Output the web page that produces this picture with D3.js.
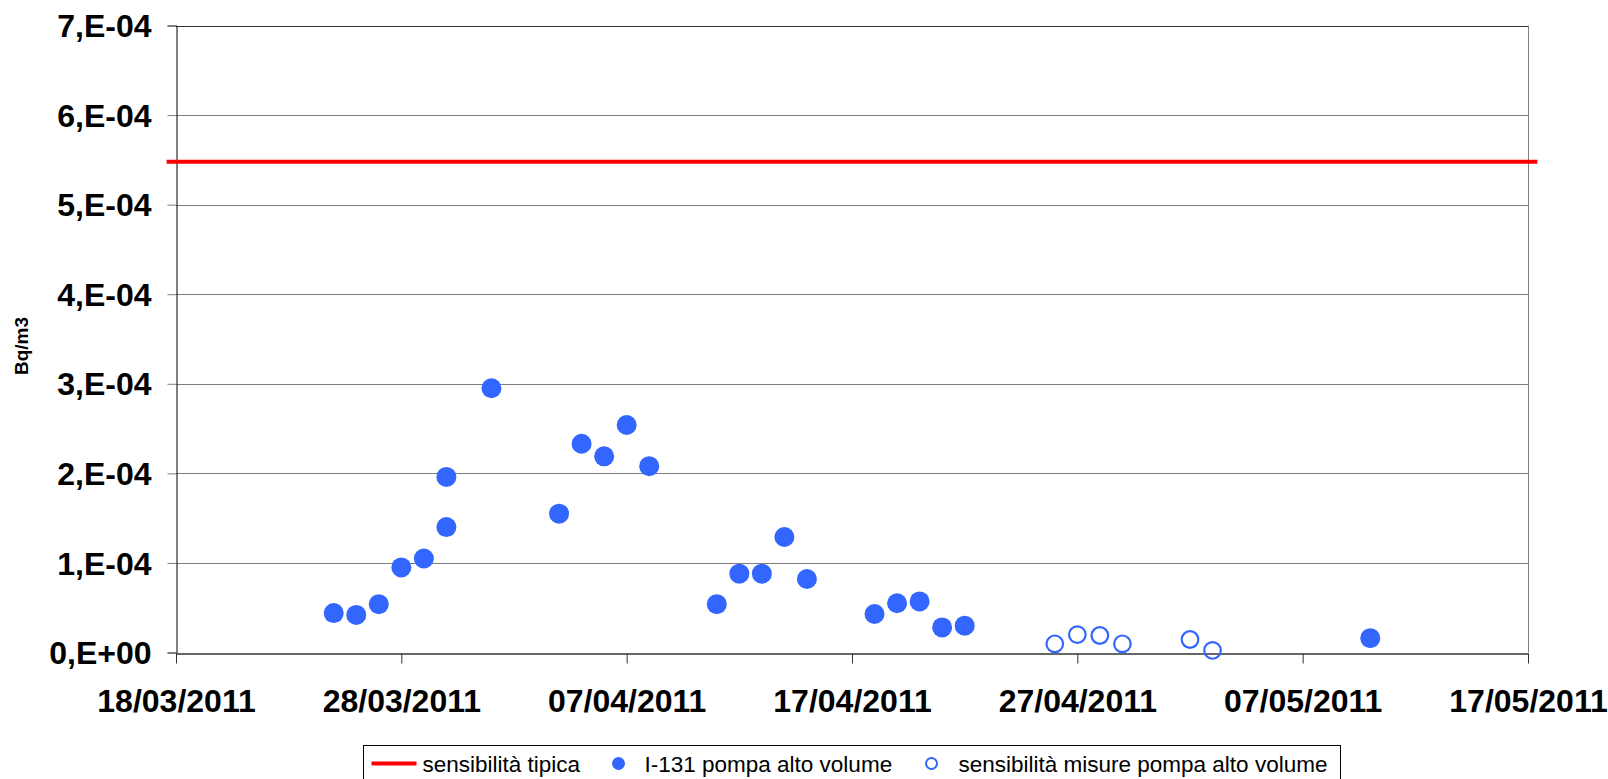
<!DOCTYPE html>
<html>
<head>
<meta charset="utf-8">
<script src="https://cdn.jsdelivr.net/npm/d3@7"></script>
<style>
  html, body { margin: 0; padding: 0; background: #fff; }
  svg { display: block; font-family: "Liberation Sans", Arial, sans-serif; }
</style>
</head>
<body>
<svg id="chart"></svg>
<script>
// I-131 pompa alto volume (filled markers)
const i131Dates = ['25/03/2011', '26/03/2011', '27/03/2011', '28/03/2011', '29/03/2011', '30/03/2011',
    '30/03/2011', '01/04/2011', '04/04/2011', '05/04/2011', '06/04/2011', '07/04/2011', '08/04/2011',
    '11/04/2011', '12/04/2011', '13/04/2011', '14/04/2011', '15/04/2011', '18/04/2011', '19/04/2011',
    '20/04/2011', '21/04/2011', '22/04/2011', '10/05/2011'];
const i131Values = [4.4e-5, 4.2e-5, 5.4e-5, 9.5e-5, 1.05e-4, 1.40e-4,
    1.96e-4, 2.95e-4, 1.55e-4, 2.33e-4, 2.19e-4, 2.54e-4, 2.08e-4,
    5.4e-5, 8.8e-5, 8.8e-5, 1.29e-4, 8.2e-5, 4.3e-5, 5.5e-5,
    5.7e-5, 2.8e-5, 3.0e-5, 1.6e-5];

// sensibilità misure pompa alto volume (open markers)
const sensDates = ['26/04/2011', '27/04/2011', '28/04/2011', '29/04/2011', '02/05/2011', '03/05/2011'];
const sensValues = [9.7e-6, 2.0e-5, 1.9e-5, 9.7e-6, 1.45e-5, 2.3e-6];

// sensibilità tipica (red line)
const typicalDates = ['17/03/2011 14', '17/05/2011 10'];
const typicalValues = [5.48e-4, 5.48e-4];

const xTickDates = ['18/03/2011', '28/03/2011', '07/04/2011', '17/04/2011', '27/04/2011', '07/05/2011', '17/05/2011'];
const yTickValues = [0, 1e-4, 2e-4, 3e-4, 4e-4, 5e-4, 6e-4, 7e-4];
const yTickLabels = ['0,E+00', '1,E-04', '2,E-04', '3,E-04', '4,E-04', '5,E-04', '6,E-04', '7,E-04'];

const legendLabels = ['sensibilità tipica', 'I-131 pompa alto volume', 'sensibilità misure pompa alto volume'];

const width = 1608, height = 779;
const margin = { top: 25.5, right: 80, bottom: 126.5, left: 176 };

const parseDay = d3.utcParse('%d/%m/%Y');
const parseHour = d3.utcParse('%d/%m/%Y %H');
const fmtDay = d3.utcFormat('%d/%m/%Y');

const blue = '#3366ff';

const svg = d3.select('#chart')
    .attr('width', width)
    .attr('height', height);

const x = d3.scaleUtc()
    .domain([parseDay(xTickDates[0]), parseDay(xTickDates[xTickDates.length - 1])])
    .range([margin.left, width - margin.right]);

const y = d3.scaleLinear()
    .domain([0, 7e-4])
    .range([height - margin.bottom, margin.top]);

// gridlines
svg.append('g')
    .selectAll('line')
    .data(yTickValues.slice(1))
    .join('line')
    .attr('x1', margin.left)
    .attr('x2', width - margin.right)
    .attr('y1', d => Math.round(y(d)) + 0.5)
    .attr('y2', d => Math.round(y(d)) + 0.5)
    .attr('stroke', (d, i) => i === yTickValues.length - 2 ? '#333' : '#7f7f7f')
    .attr('stroke-width', 1);

// right border of plot area
svg.append('line')
    .attr('x1', width - margin.right + 0.5)
    .attr('x2', width - margin.right + 0.5)
    .attr('y1', margin.top)
    .attr('y2', height - margin.bottom)
    .attr('stroke', '#7f7f7f');

// y axis
const yAxis = svg.append('g')
    .attr('transform', `translate(${margin.left + 0.5},0)`)
    .call(d3.axisLeft(y)
        .tickValues(yTickValues)
        .tickFormat((d, i) => yTickLabels[i])
        .tickSize(9)
        .tickPadding(16));
yAxis.select('.domain').attr('stroke', '#000');
yAxis.selectAll('.tick line').attr('stroke', '#7f7f7f');
yAxis.selectAll('text')
    .attr('fill', '#000')
    .style('font-size', '32px')
    .style('font-weight', 'bold')
    .attr('dy', '0.35em');

// x axis
const xAxis = svg.append('g')
    .attr('transform', `translate(0,${Math.round(y(0)) + 0.5})`)
    .call(d3.axisBottom(x)
        .tickValues(xTickDates.map(parseDay))
        .tickFormat(fmtDay)
        .tickSize(10)
        .tickSizeOuter(0)
        .tickPadding(26));
xAxis.select('.domain').attr('stroke', '#333').attr('stroke-width', 1.4);
xAxis.selectAll('.tick line').attr('stroke', '#333');
xAxis.selectAll('text')
    .attr('fill', '#000')
    .style('font-size', '32px')
    .style('font-weight', 'bold');

// y axis title
svg.append('text')
    .attr('transform', `translate(28,346) rotate(-90)`)
    .attr('text-anchor', 'middle')
    .style('font-size', '19px')
    .style('font-weight', 'bold')
    .text('Bq/m3');

// sensibilità tipica
const line = d3.line()
    .x(d => x(d[0]))
    .y(d => y(d[1]));

svg.append('path')
    .datum(typicalDates.map((d, i) => [parseHour(d), typicalValues[i]]))
    .attr('d', line)
    .attr('fill', 'none')
    .attr('stroke', '#ff0000')
    .attr('stroke-width', 4);

// I-131 pompa alto volume
svg.append('g')
    .selectAll('circle')
    .data(i131Dates.map((d, i) => [parseDay(d), i131Values[i]]))
    .join('circle')
    .attr('cx', d => x(d[0]))
    .attr('cy', d => y(d[1]))
    .attr('r', 10)
    .attr('fill', blue);

// sensibilità misure pompa alto volume
svg.append('g')
    .selectAll('circle')
    .data(sensDates.map((d, i) => [parseDay(d), sensValues[i]]))
    .join('circle')
    .attr('cx', d => x(d[0]))
    .attr('cy', d => y(d[1]))
    .attr('r', 8.3)
    .attr('fill', 'none')
    .attr('stroke', blue)
    .attr('stroke-width', 2.2);

// legend
const legend = svg.append('g').attr('transform', 'translate(363.5,745.5)');
legend.append('rect')
    .attr('width', 977)
    .attr('height', 40)
    .attr('fill', '#fff')
    .attr('stroke', '#000');

const ly = 18;
legend.append('line')
    .attr('x1', 8).attr('x2', 53)
    .attr('y1', ly).attr('y2', ly)
    .attr('stroke', '#ff0000')
    .attr('stroke-width', 4);
legend.append('text')
    .attr('x', 59).attr('y', ly + 8)
    .style('font-size', '22.5px')
    .text(legendLabels[0]);

legend.append('circle')
    .attr('cx', 255).attr('cy', ly)
    .attr('r', 6.5)
    .attr('fill', blue);
legend.append('text')
    .attr('x', 281).attr('y', ly + 8)
    .style('font-size', '22.5px')
    .text(legendLabels[1]);

legend.append('circle')
    .attr('cx', 568).attr('cy', ly)
    .attr('r', 5.5)
    .attr('fill', 'none')
    .attr('stroke', blue)
    .attr('stroke-width', 2);
legend.append('text')
    .attr('x', 595).attr('y', ly + 8)
    .style('font-size', '22.5px')
    .text(legendLabels[2]);
</script>
</body>
</html>
